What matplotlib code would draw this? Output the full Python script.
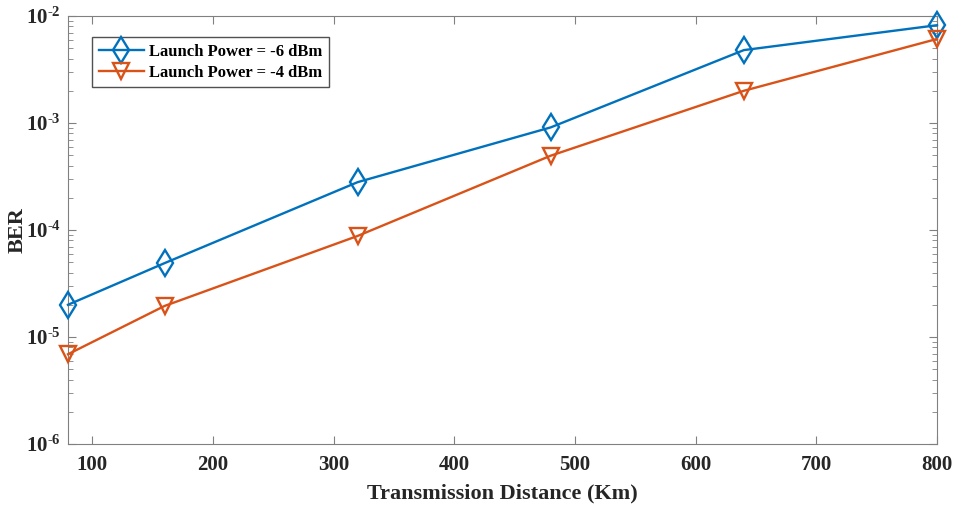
import matplotlib.pyplot as plt
from matplotlib.ticker import FuncFormatter
import numpy as np

distance = [80, 160, 320, 480, 640, 800]
ber_m6 = [2.0e-5, 4.9e-5, 2.8e-4, 9.1e-4, 4.8e-3, 8.2e-3]
ber_m4 = [6.9e-6, 1.95e-5, 8.8e-5, 4.95e-4, 2.0e-3, 6.1e-3]
labels = ["Launch Power = -6 dBm", "Launch Power = -4 dBm"]

plt.rcParams['font.family'] = ['Liberation Serif', 'DejaVu Serif']
plt.rcParams['font.weight'] = 'bold'
plt.rcParams['axes.unicode_minus'] = False
plt.rcParams['mathtext.fontset'] = 'custom'
plt.rcParams['mathtext.rm'] = 'Liberation Serif:bold'
plt.rcParams['mathtext.default'] = 'rm'

fig = plt.figure(figsize=(9.63, 5.09), dpi=100)
ax = fig.add_axes([0.0706, 0.1277, 0.9024, 0.8409])

ax.plot(distance, ber_m6, color='#0072BD', lw=1.7, marker='d', ms=13,
        mfc='none', mew=1.7, label=labels[0], clip_on=False, zorder=3)
ax.plot(distance, ber_m4, color='#D95319', lw=1.7, marker='v', ms=11,
        mfc='none', mew=1.7, label=labels[1], clip_on=False, zorder=3)

ax.set_yscale('log')
ax.set_xlim(80, 800)
ax.set_ylim(1e-6, 1e-2)
ax.set_xticks([100, 200, 300, 400, 500, 600, 700, 800])
ax.set_yticks([1e-6, 1e-5, 1e-4, 1e-3, 1e-2])


def pow_label(v, pos):
    k = int(round(np.log10(v)))
    if k < 0:
        return r'$10^{\text{-}%d}$' % (-k)
    return r'$10^{%d}$' % k


ax.yaxis.set_major_formatter(FuncFormatter(pow_label))

for s in ax.spines.values():
    s.set_color('#808080')
ax.tick_params(which='both', direction='in', top=True, right=True,
               color='#808080', labelsize=15, labelcolor='#262626')
ax.tick_params(which='major', length=6)
ax.tick_params(which='minor', length=3.5)
ax.tick_params(axis='x', pad=8)
ax.tick_params(axis='y', pad=5)

ax.set_xlabel('Transmission Distance (Km)', fontsize=16, fontweight='bold',
              color='#262626', labelpad=6)
ax.set_ylabel('BER', fontsize=16, fontweight='bold', color='#262626')
ax.yaxis.set_label_coords(-0.046, 0.5)

leg = ax.legend(loc='upper left', bbox_to_anchor=(0.028, 0.951), fontsize=12,
                frameon=True, fancybox=False, edgecolor='#262626',
                handlelength=2.7, borderpad=0.4, labelspacing=0.3,
                handletextpad=0.3, borderaxespad=0)
leg.get_frame().set_linewidth(1.0)
for t in leg.get_texts():
    t.set_fontweight('bold')

fig.savefig('out.png', dpi=100)
